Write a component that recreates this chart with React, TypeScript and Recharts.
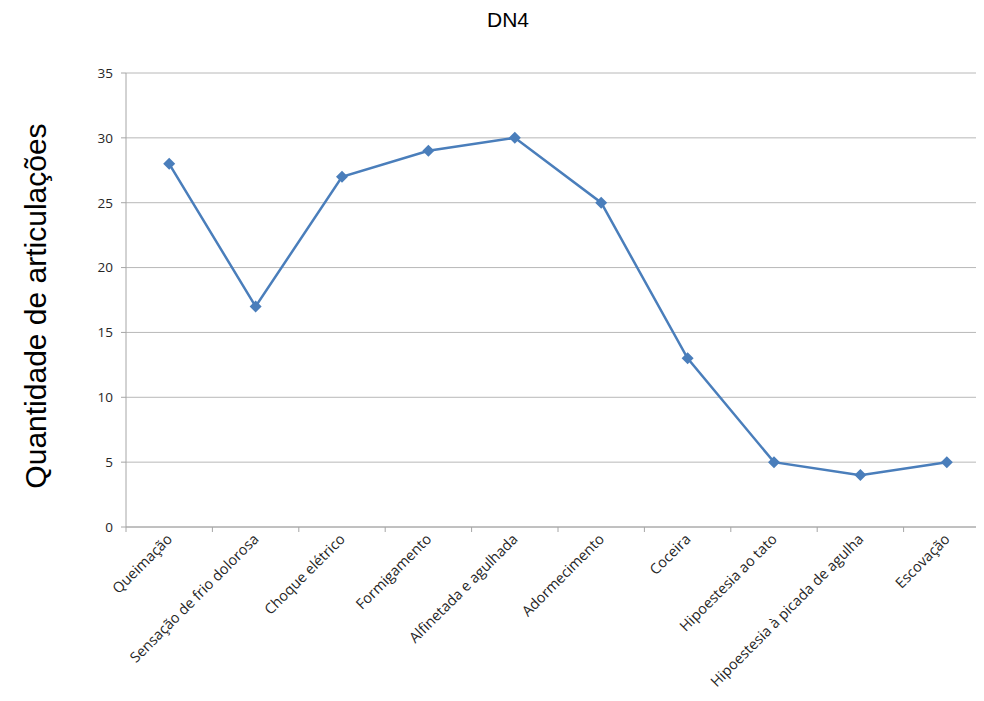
import { LineChart, Line, XAxis, YAxis, CartesianGrid } from "recharts";

const categories = [
  "Queimação",
  "Sensação de frio dolorosa",
  "Choque elétrico",
  "Formigamento",
  "Alfinetada e agulhada",
  "Adormecimento",
  "Coceira",
  "Hipoestesia ao tato",
  "Hipoestesia à picada de agulha",
  "Escovação",
];
const quantidade = [28, 17, 27, 29, 30, 25, 13, 5, 4, 5];
const yTicks = [0, 5, 10, 15, 20, 25, 30, 35];

const data = categories.map((c, i) => ({ name: c, value: quantidade[i] }));

const W = 990;
const H = 701;
const LEFT = 126;
const BAND = (W - LEFT) / categories.length;
const AXIS = "#a6a6a6";
const BLUE = "#4a7ebb";

function XTick(props: any) {
  const { x, y, payload } = props;
  return (
    <g>
      <line x1={x - BAND / 2} y1={y} x2={x - BAND / 2} y2={y + 5} stroke={AXIS} />
      <text
        x={x + 4}
        y={y + 13}
        textAnchor="end"
        transform={`rotate(-45 ${x + 4} ${y + 13})`}
        fontSize={14.5}
        fontFamily="'Open Sans', sans-serif"
        fill="#262626"
      >
        {payload.value}
      </text>
    </g>
  );
}

function Diamond(props: any) {
  const { cx, cy } = props;
  if (cx == null || cy == null) return null;
  const r = 6;
  return (
    <polygon
      points={`${cx},${cy - r} ${cx + r},${cy} ${cx},${cy + r} ${cx - r},${cy}`}
      fill={BLUE}
    />
  );
}

function YLabel() {
  return (
    <text
      x={46}
      y={306}
      textAnchor="middle"
      transform="rotate(-90 46 306)"
      fontSize={30}
      fontFamily="'Liberation Sans', Arial, sans-serif"
      fill="#000"
    >
      Quantidade de articulações
    </text>
  );
}

export default function App() {
  return (
    <div
      style={{
        position: "relative",
        margin: -8,
        width: 984,
        height: H,
        overflow: "hidden",
        background: "#fff",
      }}
    >
      <div
        style={{
          position: "absolute",
          top: 8,
          left: 458,
          width: 100,
          textAlign: "center",
          fontFamily: "'Liberation Sans', Arial, sans-serif",
          fontSize: 21,
          color: "#000",
        }}
      >
        DN4
      </div>
      <LineChart
        width={W}
        height={H}
        data={data}
        margin={{ top: 73, right: 0, bottom: 0, left: 0 }}
      >
        <CartesianGrid vertical={false} stroke="#b8b8b8" />
        <XAxis
          dataKey="name"
          interval={0}
          tickSize={0}
          tickMargin={0}
          stroke={AXIS}
          tick={<XTick />}
          height={174}
          padding={{ left: BAND / 2, right: BAND / 2 }}
        />
        <YAxis
          domain={[0, 35]}
          ticks={yTicks}
          width={LEFT}
          tickSize={5}
          tickMargin={8}
          stroke={AXIS}
          tick={{ fontSize: 13.5, fill: "#262626", fontFamily: "'Open Sans', sans-serif" }}
          label={<YLabel />}
        />
        <Line
          type="linear"
          dataKey="value"
          stroke={BLUE}
          strokeWidth={2.5}
          dot={<Diamond />}
          activeDot={false}
          isAnimationActive={false}
        />
      </LineChart>
    </div>
  );
}
